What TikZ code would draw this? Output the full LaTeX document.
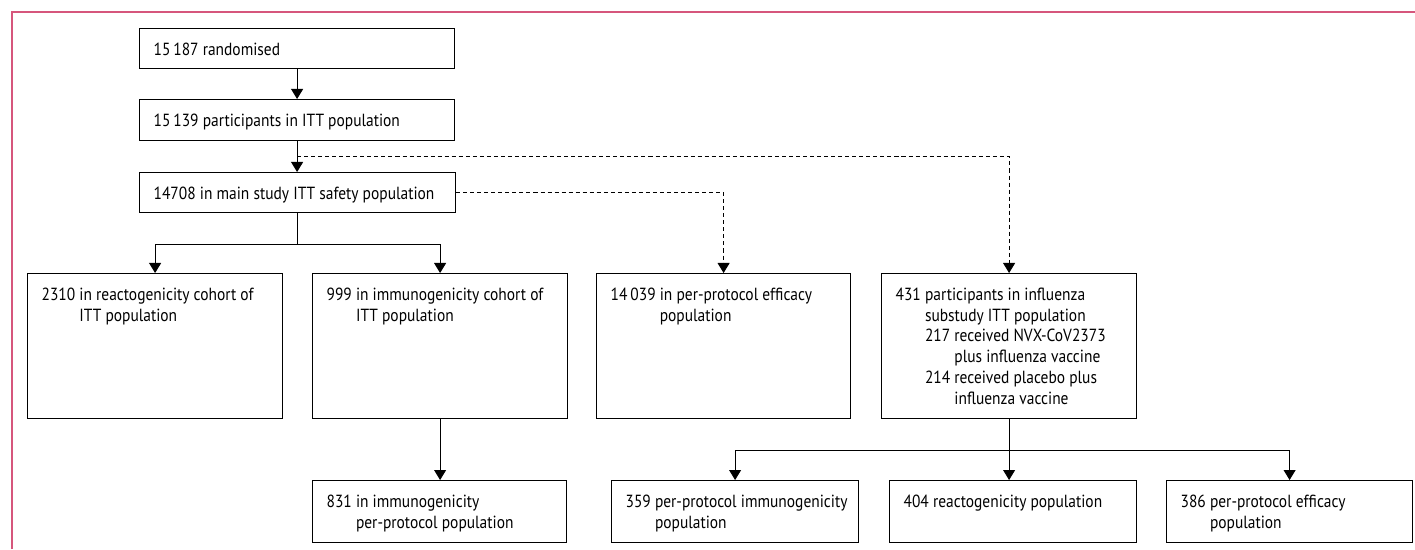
\documentclass[tikz,border=0pt]{standalone}
\usepackage{fontspec}
\setmainfont{PT Sans}[FakeStretch=0.88]
\usepackage{xcolor}
\usetikzlibrary{arrows.meta,positioning,calc}

\definecolor{framepink}{RGB}{214,86,124}
\newcommand{\flowfont}{\fontsize{10}{11.78}\selectfont}
% text sits at the top of a box of fixed size
\newcommand{\boxtext}[3]{\parbox[t][#2][t]{#1}{\vspace*{7.1pt}\begin{tabular}[t]{@{}l@{\ }l@{\ }l@{}}#3\end{tabular}}}

\tikzset{
  flowbox/.style={draw, line width=0.7pt, anchor=north west, inner xsep=0.28cm, inner ysep=0pt, font=\flowfont},
  flowline/.style={line width=0.55pt},
  dashline/.style={line width=0.55pt, dash pattern=on 2.3pt off 1.7pt}
}

\begin{document}
\begin{tikzpicture}[x=0.02cm, y=-0.02cm, >={Triangle[width=6.8pt,length=5.7pt]}]
\useasboundingbox (0,0) rectangle (1415,549);
\draw[framepink, line width=0.6pt] (12,549) -- (12,12) -- (1415,12);

% main study
\node[flowbox] (rand) at (139,28) {\boxtext{5.74cm}{0.8cm}{15\,187 randomised}};
\node[flowbox] (itt) at (139,99) {\boxtext{5.74cm}{0.82cm}{15\,139 participants in ITT population}};
\node[flowbox] (safety) at (139,172) {\boxtext{5.76cm}{0.8cm}{14708 in main study ITT safety population}};

\node[flowbox] (react) at (27,273) {\boxtext{4.54cm}{2.9cm}{2310 & in reactogenicity cohort of\\ & ITT population}};
\node[flowbox] (immuno) at (312,273) {\boxtext{4.54cm}{2.9cm}{999 & in immunogenicity cohort of\\ & ITT population}};
\node[flowbox] (ppeff) at (596,273) {\boxtext{4.52cm}{2.9cm}{14\,039 & in per-protocol efficacy\\ & population}};
\node[flowbox] (flu) at (881,273) {\boxtext{4.54cm}{2.9cm}{431 & \multicolumn{2}{@{}l@{}}{participants in influenza}\\
  & \multicolumn{2}{@{}l@{}}{substudy ITT population}\\
  & 217 & received NVX-CoV2373\\
  & & plus influenza vaccine\\
  & 214 & received placebo plus\\
  & & influenza vaccine}};

\node[flowbox] (immpp) at (312,480) {\boxtext{4.52cm}{1.24cm}{831 & in immunogenicity\\ & per-protocol population}};

% influenza substudy
\node[flowbox] (fluimm) at (611,480) {\boxtext{4.38cm}{1.24cm}{359 & per-protocol immunogenicity\\ & population}};
\node[flowbox] (flureact) at (889,480) {\boxtext{4.38cm}{1.24cm}{404 reactogenicity population}};
\node[flowbox] (flupp) at (1166,480) {\boxtext{4.36cm}{1.24cm}{386 & per-protocol efficacy\\ & population}};

\draw[flowline, ->] (rand) -- (itt);
\draw[flowline, ->] (itt.south) -- (itt.south |- safety.north);
\coordinate (split) at ($(itt.south)!0.5!(itt.south |- safety.north)$);
\draw[dashline, ->] (split) -| (flu.north);
\draw[dashline, ->] (safety.east) -| (ppeff.north);

\coordinate (fork1) at ($(safety.south)+(0,31)$);
\draw[flowline] (safety.south) -- (fork1);
\draw[flowline, ->] (fork1) -| (react.north);
\draw[flowline, ->] (fork1) -| (immuno.north);
\draw[flowline, ->] (immuno.south) -- (immuno.south |- immpp.north);

\coordinate (fork2) at ($(flu.south)+(0,31)$);
\draw[flowline, ->] (flu.south) -- (flu.south |- flureact.north);
\draw[flowline, ->] (fork2) -| (fluimm.north);
\draw[flowline, ->] (fork2) -| (flupp.north);
\end{tikzpicture}
\end{document}
